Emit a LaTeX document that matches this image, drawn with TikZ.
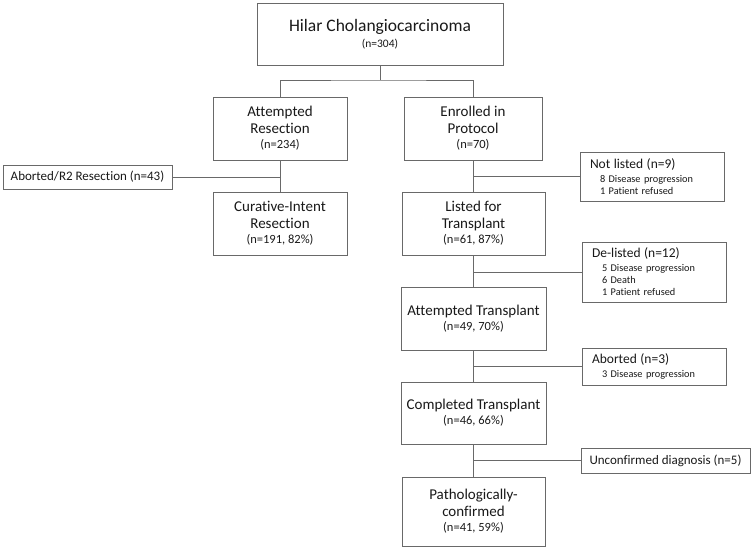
\documentclass[tikz,border=0pt]{standalone}
\usepackage{fontspec}
\setmainfont[Ligatures=NoCommon]{Carlito}
\definecolor{linec}{RGB}{105,105,105}
\definecolor{txt}{RGB}{25,25,25}
\begin{document}
\begin{tikzpicture}[x=1pt,y=-1pt,
  mainbox/.style={draw=linec, line width=1pt, align=center, inner sep=0pt, text=txt,
    font=\fontsize{15}{17}\selectfont},
  sidebox/.style={draw=linec, line width=1pt, align=left, inner sep=0pt, text=txt,
    font=\fontsize{10.3}{12}\selectfont},
  conn/.style={draw=linec, line width=1pt}
]
\useasboundingbox (0,0) rectangle (754,550);
\fill[white] (0,0) rectangle (754,550);

% main column boxes
\node[mainbox, minimum width=246pt, minimum height=62pt, font=\fontsize{17.5}{16}\selectfont] (top) at (380,34)
  {Hilar Cholangiocarcinoma\\{\fontsize{11.5}{14}\selectfont (n=304)}};

\node[mainbox, minimum width=134pt, minimum height=63pt] (ar) at (280,128.5)
  {Attempted\\Resection\\[-2pt]{\fontsize{12.5}{14}\selectfont (n=234)}};
\node[mainbox, minimum width=134pt, minimum height=63pt] (cr) at (280,223.5)
  {Curative-Intent\\Resection\\[-2pt]{\fontsize{12.5}{14}\selectfont (n=191, 82\%)}};

\node[mainbox, minimum width=138pt, minimum height=63pt] (ep) at (473,128.5)
  {Enrolled in\\Protocol\\[-2pt]{\fontsize{12.5}{14}\selectfont (n=70)}};
\node[mainbox, minimum width=143pt, minimum height=63pt] (lt) at (473.5,223.5)
  {Listed for\\Transplant\\[-2pt]{\fontsize{12.5}{14}\selectfont (n=61, 87\%)}};
\node[mainbox, minimum width=145pt, minimum height=63pt] (at) at (473.5,318.5)
  {Attempted Transplant\\[-2pt]{\fontsize{12.5}{14}\selectfont (n=49, 70\%)}};
\node[mainbox, minimum width=145pt, minimum height=62pt] (ct) at (473.5,413)
  {Completed Transplant\\[-2pt]{\fontsize{12.5}{14}\selectfont (n=46, 66\%)}};
\node[mainbox, minimum width=143pt, minimum height=69pt] (pc) at (473.5,511.5)
  {Pathologically-\\confirmed\\[-2pt]{\fontsize{12.5}{14}\selectfont (n=41, 59\%)}};

% side boxes
\node[mainbox, minimum width=169pt, minimum height=24pt, font=\fontsize{13}{14}\selectfont] (ab) at (87.5,177)
  {Aborted/R2 Resection (n=43)};

\node[sidebox, minimum width=144pt, minimum height=49pt, text width=124pt] (nl) at (652,176.5)
  {{\fontsize{13.5}{14}\selectfont Not listed (n=9)}\\[2pt]
   \hspace*{10pt}8 Disease progression\\
   \hspace*{10pt}1 Patient refused};
\node[sidebox, minimum width=144pt, minimum height=60pt, text width=124pt] (dl) at (654,272)
  {{\fontsize{13.5}{14}\selectfont De-listed (n=12)}\\[2pt]
   \hspace*{10pt}5 Disease progression\\
   \hspace*{10pt}6 Death\\
   \hspace*{10pt}1 Patient refused};
\node[sidebox, minimum width=144pt, minimum height=37pt, text width=124pt] (ad) at (654,366.5)
  {{\fontsize{13.5}{14}\selectfont Aborted (n=3)}\\[2pt]
   \hspace*{10pt}3 Disease progression};
\node[mainbox, minimum width=169pt, minimum height=25pt, font=\fontsize{13}{14}\selectfont] (uc) at (665.5,460.5)
  {Unconfirmed diagnosis (n=5)};

% connectors
\coordinate (split) at (380,80);
\draw[conn] (top.south) -- (split);
\draw[conn] (ar.north) |- (split) -| (ep.north);
\draw[conn] (ar.south) -- (cr.north);
\draw[conn] (ep.south) -- (ep.south |- lt.north);
\draw[conn] (lt.south) -- (lt.south |- at.north);
\draw[conn] (at.south) -- (at.south |- ct.north);
\draw[conn] (ct.south) -- (ct.south |- pc.north);

\draw[conn] (ab.east) -- (ab.east -| ar.south);
\draw[conn] (nl.west) -- (nl.west -| ep.south);
\draw[conn] (dl.west) -- (dl.west -| ep.south);
\draw[conn] (ad.west) -- (ad.west -| ep.south);
\draw[conn] (uc.west) -- (uc.west -| ep.south);
\end{tikzpicture}
\end{document}
